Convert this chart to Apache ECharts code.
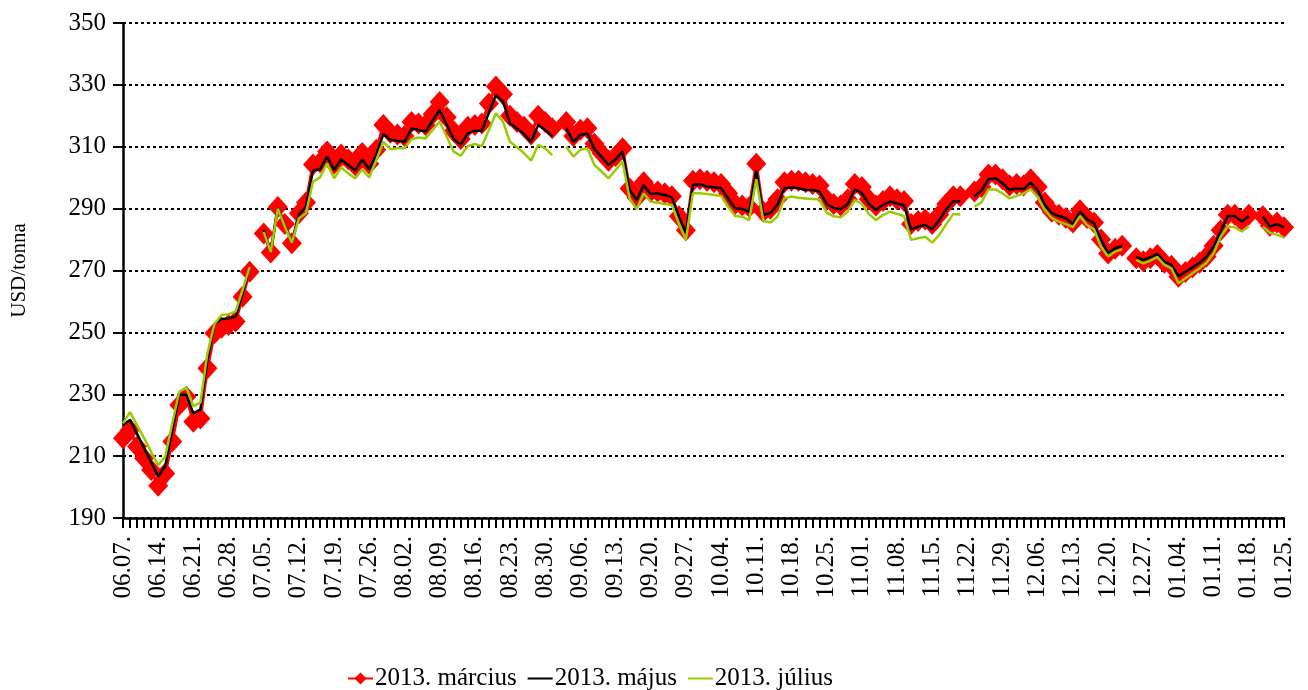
<!DOCTYPE html>
<html>
<head>
<meta charset="utf-8">
<script src="https://cdn.jsdelivr.net/npm/echarts@6/dist/echarts.min.js"></script>
<style>
  html, body { margin: 0; padding: 0; background: #fff; }
  #chart { width: 1308px; height: 690px; }
</style>
</head>
<body>
<div id="chart"></div>
<script>
// trading days 2012.06.07 - 2013.01.25 (01.01 is not in the table)
function makeDays() {
  var out = [];
  var d = new Date(2012, 5, 7);
  var end = new Date(2013, 0, 25);
  while (d <= end) {
    var wd = d.getDay();
    var skip = (d.getFullYear() === 2013 && d.getMonth() === 0 && d.getDate() === 1);
    if (wd !== 0 && wd !== 6 && !skip) {
      var mm = ('0' + (d.getMonth() + 1)).slice(-2);
      var dd = ('0' + d.getDate()).slice(-2);
      out.push(mm + '.' + dd + '.');
    }
    d.setDate(d.getDate() + 1);
  }
  return out;
}
var days = makeDays();

var marcius = [
  215.8, 218.5, 213.1, 209.3, 205.5, 200.4, 204.4, 214.7, 226.5, 229.2,
  221.1, 222.2, 238.4, 249.7, 251.5, 252.4, 253.5, 261.5, 269.6, null,
  282.0, 275.8, 290.5, 285.0, 278.8, 288.5, 292.0, 304.3, 305.0, 308.5,
  304.5, 307.5, 306.0, 304.0, 308.0, 304.5, 309.0, 317.0, 314.5, 314.0,
  313.5, 318.0, 317.5, 317.0, 320.5, 324.5, 319.5, 315.0, 312.5, 316.5,
  317.0, 317.5, 324.0, 329.5, 327.0, 320.0, 318.0, 316.5, 314.0, 320.0,
  318.0, 316.0, null, 318.0, 313.5, 315.5, 316.0, 311.0, 308.0, 305.5,
  307.0, 309.5, 296.5, 293.5, 298.5, 295.5, 295.5, 295.0, 294.0, 287.5,
  283.0, 299.0, 299.5, 299.0, 298.5, 298.0, 295.0, 291.5, 291.0, 290.5,
  304.5, 289.0, 290.0, 293.0, 298.5, 299.0, 299.0, 298.5, 298.0, 297.5,
  293.0, 291.5, 291.0, 293.0, 298.0, 297.0, 293.0, 291.0, 292.5, 294.0,
  293.0, 292.5, 285.0, 286.0, 286.5, 285.0, 288.0, 291.5, 294.0, 294.0,
  null, 295.5, 297.0, 301.0, 301.0, 299.5, 297.5, 298.0, 297.5, 299.5,
  297.0, 292.0, 289.0, 288.0, 287.0, 285.5, 289.5, 287.0, 285.5, 280.0,
  275.5, 277.0, 278.0, null, 274.0, 273.0, 274.0, 275.0, 272.5, 271.5,
  268.0, 269.5, 271.0, 272.5, 274.5, 278.0, 283.0, 288.0, 288.0, 286.0,
  288.0, null, 287.5, 284.5, 285.5, 284.0
];

var majus = [
  220.1, 221.7, 217.2, 212.6, 208.1, 203.4, 206.8, 218.3, 229.8, 229.8,
  223.8, 225.1, 241.1, 252.7, 254.3, 254.5, 255.1, 262.6, 271.2, null,
  283.1, 276.1, 290.1, 284.5, 279.0, 288.0, 290.6, 302.3, 302.7, 306.8,
  302.5, 305.9, 304.1, 302.3, 305.9, 302.7, 307.3, 314.1, 312.2, 311.9,
  311.6, 315.9, 315.4, 314.9, 318.4, 321.9, 317.2, 312.5, 310.6, 314.3,
  315.2, 315.2, 321.0, 326.7, 324.6, 317.6, 315.9, 314.1, 311.6, 317.0,
  315.4, 313.3, null, 316.0, 311.6, 313.8, 314.3, 309.2, 306.8, 304.1,
  305.9, 308.4, 296.0, 292.8, 297.6, 294.7, 294.9, 294.4, 293.7, 287.4,
  282.2, 297.6, 297.9, 297.1, 296.9, 296.6, 293.3, 290.1, 289.9, 289.0,
  302.3, 288.0, 288.5, 291.2, 296.6, 296.8, 296.6, 296.0, 296.0, 295.5,
  291.5, 290.2, 289.8, 291.5, 296.2, 295.0, 291.5, 289.6, 291.2, 292.3,
  291.7, 291.1, 283.3, 284.2, 284.7, 283.3, 286.3, 289.8, 292.3, 292.3,
  null, 294.0, 295.8, 299.5, 299.8, 298.2, 296.0, 296.6, 296.3, 298.4,
  296.0, 291.2, 288.5, 287.6, 286.9, 285.0, 289.0, 286.6, 285.3, 279.9,
  275.6, 277.2, 277.9, null, 274.3, 273.4, 274.3, 275.3, 272.9, 271.8,
  268.2, 269.6, 271.0, 272.5, 274.5, 277.7, 282.6, 287.6, 287.6, 285.8,
  287.6, null, 287.4, 284.2, 285.0, 283.9
];

var julius = [
  220.6, 224.2, 220.0, 215.8, 211.4, 207.1, 209.8, 220.6, 230.8, 232.2,
  226.2, 227.3, 243.2, 252.7, 255.6, 255.9, 256.7, 263.7, 271.2, null,
  282.5, 276.0, 290.0, 284.2, 279.0, 286.9, 288.5, 298.7, 300.1, 304.6,
  299.8, 303.3, 301.4, 299.8, 302.7, 300.1, 305.7, 311.6, 309.2, 309.5,
  309.5, 312.4, 313.0, 312.7, 315.4, 318.1, 313.3, 308.4, 307.1, 310.2,
  310.9, 310.2, 315.4, 320.8, 318.1, 311.6, 309.8, 307.9, 305.5, 310.6,
  309.5, 307.3, null, 310.0, 306.8, 309.0, 309.5, 304.1, 302.0, 299.8,
  302.5, 305.2, 293.3, 289.8, 294.9, 292.2, 291.9, 291.5, 291.2, 285.2,
  279.9, 295.0, 295.0, 294.7, 294.4, 294.1, 290.6, 287.6, 287.4, 286.3,
  299.5, 286.1, 285.5, 287.4, 293.3, 293.9, 293.5, 293.3, 293.1, 293.0,
  288.7, 287.5, 287.2, 289.0, 292.8, 291.5, 288.3, 286.3, 287.9, 289.0,
  288.3, 287.6, 279.9, 280.4, 280.9, 279.0, 281.5, 285.0, 288.3, 288.1,
  null, 290.6, 292.0, 296.2, 296.2, 294.9, 293.3, 294.1, 294.9, 296.2,
  293.7, 289.6, 286.9, 285.8, 285.0, 284.0, 287.6, 284.7, 283.3, 277.7,
  274.5, 276.1, 276.9, null, 273.4, 272.3, 273.2, 274.3, 271.8, 270.7,
  265.9, 267.5, 269.1, 270.7, 272.5, 275.6, 280.9, 284.2, 284.0, 282.6,
  284.2, null, 284.2, 282.2, 281.5, 280.7
];

var seriesNames = ['2013. március', '2013. május', '2013. július'];
var yTitle = 'USD/tonna';

var font = "'Liberation Serif', 'Times New Roman', serif";

var chart = echarts.init(document.getElementById('chart'));
chart.setOption({
  animation: false,
  backgroundColor: '#fff',
  textStyle: { fontFamily: font, color: '#000' },
  grid: { left: 123, right: 24, top: 23, bottom: 172, containLabel: false },
  legend: {
    left: 342,
    top: 661,
    itemGap: 10,
    itemWidth: 25,
    itemHeight: 15,
    textStyle: { fontFamily: font, fontSize: 25, color: '#000', padding: [0, 0, 0, -3] },
    data: [
      { name: seriesNames[0] },
      { name: seriesNames[1], itemStyle: { opacity: 0 } },
      { name: seriesNames[2], itemStyle: { opacity: 0 } }
    ]
  },
  xAxis: {
    type: 'category',
    boundaryGap: false,
    data: days,
    axisLine: { lineStyle: { color: '#000', width: 2.5 } },
    axisTick: { show: true, interval: 0, length: 10, lineStyle: { color: '#000', width: 2 } },
    axisLabel: {
      interval: 4,
      rotate: 90,
      margin: 18,
      fontFamily: font,
      fontSize: 25,
      color: '#000'
    },
    splitLine: { show: false }
  },
  yAxis: {
    type: 'value',
    min: 190,
    max: 350,
    interval: 20,
    name: yTitle,
    nameLocation: 'middle',
    nameGap: 93,
    nameTextStyle: { fontFamily: font, fontSize: 21, color: '#000' },
    axisLine: { show: true, lineStyle: { color: '#000', width: 2.5 } },
    axisTick: { show: true, length: 10, lineStyle: { color: '#000', width: 2 } },
    axisLabel: { margin: 17, fontFamily: font, fontSize: 25, color: '#000' },
    splitLine: { show: true, lineStyle: { color: '#000', width: 2, type: [3, 3] } }
  },
  series: [
    {
      name: seriesNames[0],
      type: 'line',
      z: 2,
      data: marcius,
      symbol: 'diamond',
      symbolSize: [20, 22],
      showAllSymbol: true,
      connectNulls: false,
      itemStyle: { color: '#ff0000' },
      lineStyle: { color: '#ff0000', width: 3 }
    },
    {
      name: seriesNames[1],
      type: 'line',
      z: 4,
      data: majus,
      symbol: 'none',
      connectNulls: false,
      itemStyle: { color: '#000' },
      lineStyle: { color: '#000', width: 2.5 }
    },
    {
      name: seriesNames[2],
      type: 'line',
      z: 5,
      data: julius,
      symbol: 'none',
      connectNulls: false,
      itemStyle: { color: '#99cc00' },
      lineStyle: { color: '#99cc00', width: 2.5 }
    }
  ]
});
</script>
</body>
</html>
